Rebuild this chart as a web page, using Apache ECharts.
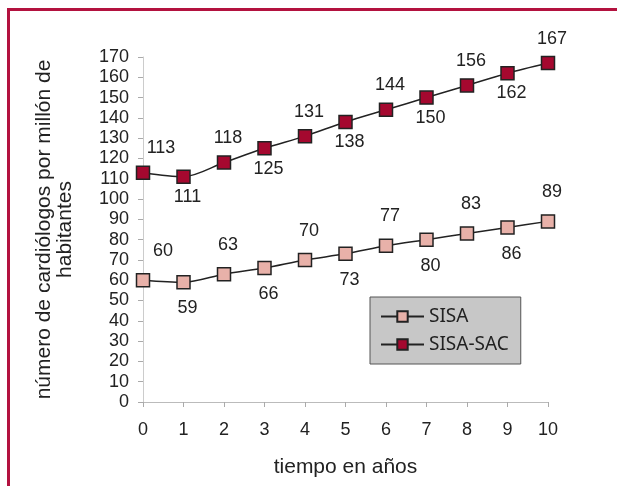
<!DOCTYPE html>
<html>
<head>
<meta charset="utf-8">
<script src="https://cdn.jsdelivr.net/npm/echarts@6/dist/echarts.min.js"></script>
<style>
html,body{margin:0;padding:0;background:#fff;}
#wrap{position:relative;width:617px;height:486px;overflow:hidden;}
#chart{position:absolute;left:0;top:0;width:617px;height:486px;}
#frame{position:absolute;left:7px;top:8px;width:620px;height:490px;border-top:3px solid #b3123f;border-left:3px solid #b3123f;pointer-events:none;}
</style>
</head>
<body>
<div id="wrap"><div id="chart"></div><div id="frame"></div></div>
<script>
var years = ['0','1','2','3','4','5','6','7','8','9','10'];
var sisa = [60, 59, 63, 66, 70, 73, 77, 80, 83, 86, 89];
var sisaSac = [113, 111, 118, 125, 131, 138, 144, 150, 156, 162, 167];
var yTicks = {min: 0, max: 170, step: 10};

function withLabels(values, gapUp, gapDown, firstShift) {
  return values.map(function (v, i) {
    var up = i % 2 === 0;
    return {
      value: v,
      label: {
        position: up ? 'top' : 'bottom',
        distance: up ? gapUp : gapDown,
        offset: [i === 0 ? firstShift : 4, 0]
      }
    };
  });
}

var chart = echarts.init(document.getElementById('chart'));
var font = 'Liberation Sans, Arial, sans-serif';
var labelStyle = {show: true, fontFamily: font, fontSize: 18, color: '#222'};
chart.setOption({
  animation: false,
  grid: {left: 143, right: 69, top: 57, bottom: 84},
  legend: {
    orient: 'vertical',
    left: 370, top: 297,
    backgroundColor: '#c7c7c7',
    borderColor: '#555',
    borderWidth: 1,
    padding: [10, 12, 10, 10],
    itemGap: 9,
    itemWidth: 43,
    itemHeight: 13,
    textStyle: {fontFamily: 'Noto Sans, Open Sans, sans-serif', fontSize: 19, color: '#222'},
    data: ['SISA', 'SISA-SAC']
  },
  xAxis: {
    type: 'category',
    data: years,
    boundaryGap: false,
    name: 'tiempo en años',
    nameLocation: 'middle',
    nameGap: 55,
    nameTextStyle: {fontFamily: font, fontSize: 21, color: '#222'},
    axisLine: {lineStyle: {color: '#bbb', width: 1}},
    axisTick: {show: true, length: 5, lineStyle: {color: '#aaa'}},
    axisLabel: {fontFamily: font, fontSize: 18, color: '#222', margin: 19}
  },
  yAxis: {
    type: 'value',
    min: yTicks.min, max: yTicks.max, interval: yTicks.step,
    name: 'número de cardiólogos por millón de\nhabitantes',
    nameLocation: 'middle',
    nameGap: 67,
    nameRotate: 90,
    nameTextStyle: {fontFamily: font, fontSize: 21, color: '#222', lineHeight: 21},
    axisLine: {show: true, lineStyle: {color: '#ccc', width: 1}},
    axisTick: {show: true, length: 5, lineStyle: {color: '#aaa'}},
    splitLine: {show: false},
    axisLabel: {fontFamily: font, fontSize: 18, color: '#222', margin: 14}
  },
  series: [
    {
      name: 'SISA',
      type: 'line',
      smooth: 0.3,
      data: withLabels(sisa, 13, 10, 20),
      symbol: 'rect',
      symbolSize: 13,
      itemStyle: {color: '#e8b1a9', borderColor: '#222', borderWidth: 1.5},
      lineStyle: {color: '#222', width: 1.5},
      label: labelStyle
    },
    {
      name: 'SISA-SAC',
      type: 'line',
      smooth: 0.3,
      data: withLabels(sisaSac, 8, 4, 18),
      symbol: 'rect',
      symbolSize: 13,
      itemStyle: {color: '#a5082f', borderColor: '#222', borderWidth: 1.5},
      lineStyle: {color: '#222', width: 1.5},
      label: labelStyle
    }
  ]
});
</script>
</body>
</html>
